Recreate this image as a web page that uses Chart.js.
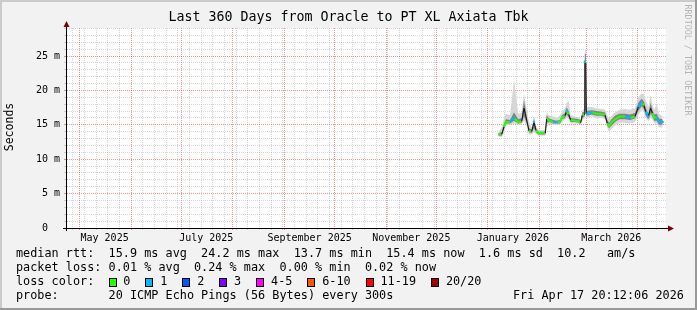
<!DOCTYPE html>
<html>
<head>
<meta charset="utf-8">
<script src="https://cdn.jsdelivr.net/npm/chart.js@4/dist/chart.umd.min.js"></script>
<style>
html, body { margin: 0; padding: 0; background: #f2f2f2; }
canvas { display: block; }
</style>
</head>
<body>
<canvas id="rtt" width="697" height="310"></canvas>
<script>
// x values are days since the start of the 360 day window (Apr 22 2025 20:12)
const days = [259.4, 261.4, 262.8, 264.0, 266.4, 268.8, 271.4, 273.4, 274.8, 276.4,
    277.8, 279.4, 280.8, 282.0, 283.4, 286.4, 287.6, 288.4, 290.0, 292.4,
    294.4, 296.4, 297.6, 299.4, 300.4, 301.6, 302.8, 305.4, 308.0, 308.8,
    309.8, 311.0, 311.3, 311.9, 312.2, 315.4, 318.4, 321.4, 323.4, 324.8, 325.8,
    327.4, 329.4, 332.0, 335.4, 338.4, 341.4, 343.4, 345.4, 346.8, 347.8,
    349.4, 350.8, 351.8, 353.0, 354.4, 355.8, 358.0];
const median = [13.6, 13.6, 14.7, 15.4, 15.4, 16.0, 15.4, 15.5, 17.4, 15.7,
    14.1, 14.0, 15.4, 14.2, 13.8, 13.8, 13.8, 16.0, 15.6, 15.4,
    15.4, 15.4, 16.1, 16.3, 17.0, 16.5, 15.7, 15.6, 15.5, 15.3,
    16.4, 16.5, 24.2, 24.0, 16.6, 16.8, 16.6, 16.6, 16.4, 15.2, 14.8,
    15.4, 15.8, 16.2, 16.2, 16.0, 16.2, 17.6, 18.2, 17.8, 16.9,
    16.2, 17.4, 16.7, 16.0, 16.1, 15.4, 15.4];
// loss class per point (index into lossLabels)
const loss = [0, 0, 0, 0, 0, 1, 0, 0, 0, 0,
    0, 0, 1, 0, 0, 0, 0, 0, 0, 0,
    1, 0, 0, 0, 1, 0, 0, 0, 0, 0,
    0, 0, 1, 0, 0, 1, 0, 0, 0, 0, 0,
    0, 0, 0, 0, 1, 0, 0, 1, 0, 0,
    1, 0, 0, 0, 0, 1, 1];
const smokeMin = [13.3, 13.2, 13.8, 14.9, 15.0, 15.2, 15.0, 15.0, 15.6, 14.8,
    13.6, 13.6, 13.9, 13.7, 13.4, 13.4, 13.4, 14.6, 15.1, 15.0,
    15.0, 15.0, 15.4, 15.7, 16.0, 15.8, 15.2, 15.2, 15.1, 15.0,
    15.6, 15.9, 16.6, 16.6, 16.0, 16.2, 16.0, 16.0, 15.8, 14.5, 14.0,
    14.4, 14.9, 15.3, 15.3, 15.2, 15.4, 16.4, 17.2, 16.8, 16.0,
    15.5, 16.0, 15.8, 15.2, 15.2, 14.6, 14.6];
const smokeMax = [14.0, 14.6, 16.0, 16.6, 16.4, 21.5, 16.6, 16.8, 19.6, 17.2,
    15.4, 14.6, 16.4, 14.8, 14.3, 14.2, 14.4, 16.8, 16.3, 16.2,
    16.0, 16.4, 16.9, 17.4, 18.2, 18.4, 16.4, 16.2, 16.0, 15.8,
    17.0, 17.4, 26.1, 25.8, 17.6, 17.6, 17.4, 17.3, 17.2, 16.4, 15.9,
    16.3, 16.8, 17.2, 17.3, 17.2, 17.4, 19.0, 19.6, 19.4, 18.6,
    17.6, 19.3, 18.0, 17.2, 18.1, 16.6, 16.2];
const coreLo = [13.4, 13.4, 14.3, 15.2, 15.2, 15.6, 15.2, 15.3, 16.2, 15.3,
    13.9, 13.8, 14.5, 13.9, 13.6, 13.6, 13.6, 15.3, 15.4, 15.2,
    15.2, 15.2, 15.8, 16.0, 16.5, 16.1, 15.4, 15.4, 15.3, 15.1,
    16.0, 16.2, 17.0, 17.0, 16.3, 16.5, 16.3, 16.3, 16.1, 14.9, 14.5,
    14.9, 15.4, 15.8, 15.8, 15.7, 15.9, 17.0, 17.7, 17.3, 16.4,
    15.8, 16.6, 16.2, 15.6, 15.6, 15.0, 15.0];
const coreHi = [13.8, 13.9, 15.2, 15.8, 15.7, 16.8, 15.8, 16.0, 18.6, 16.3,
    14.5, 14.3, 15.9, 14.5, 14.0, 14.0, 14.1, 16.4, 15.9, 15.7,
    15.6, 15.7, 16.4, 16.7, 17.5, 17.0, 16.0, 15.9, 15.8, 15.6,
    16.8, 16.9, 25.4, 25.2, 17.0, 17.1, 17.0, 16.9, 16.8, 15.7, 15.3,
    15.8, 16.3, 16.6, 16.6, 16.5, 16.7, 18.2, 18.8, 18.4, 17.5,
    16.6, 18.2, 17.2, 16.5, 16.6, 15.9, 15.8];

const monthStarts = [8.16, 39.16, 69.16, 100.16, 131.16, 161.16, 192.16, 222.16, 253.16, 284.16, 312.16, 343.16];
const labelDays = [23.16, 84.16, 146.16, 207.16, 268.16, 327.16];
const monthLabels = ['May 2025', 'July 2025', 'September 2025', 'November 2025', 'January 2026', 'March 2026'];
const firstSunday = 4.16;

const lossLabels = ['0', '1', '2', '3', '4-5', '6-10', '11-19', '20/20'];
const lossColors = ['#26ff00', '#00b8ff', '#0059ff', '#7e00ff', '#ff00ff', '#ff5500', '#ff0000', '#a10000'];

const titleText = 'Last 360 Days from Oracle to PT XL Axiata Tbk';
const rttLine = 'median rtt:  15.9 ms avg  24.2 ms max  13.7 ms min  15.4 ms now  1.6 ms sd  10.2   am/s';
const lossLine = 'packet loss: 0.01 % avg  0.24 % max  0.00 % min  0.02 % now';
const probeLine = 'probe:       20 ICMP Echo Pings (56 Bytes) every 300s';
const stampText = 'Fri Apr 17 20:12:06 2026';

const MINOR = 'rgba(128, 128, 128, 0.32)';
const MAJOR = 'rgba(225, 60, 60, 0.55)';
const MONO = "'DejaVu Sans Mono', monospace";

// x ticks: weekly minor lines, month start lines, label positions
const xTicks = new Map();
for (let d = firstSunday; d < 360; d += 7) xTicks.set(+d.toFixed(2), 'minor');
monthStarts.forEach(d => xTicks.set(d, 'major'));
labelDays.forEach(d => xTicks.set(d, 'label'));
const xTickList = [...xTicks.keys()].sort((a, b) => a - b);

const pts = (arr) => days.map((d, i) => ({x: d, y: arr[i]}));
const steep = (c) => Math.abs(c.p1.y - c.p0.y) > 2.5 * Math.abs(c.p1.x - c.p0.x);

function mono(ctx, str, x, y, pitch) {
    for (let i = 0; i < str.length; i++) ctx.fillText(str[i], x + i * pitch, y);
}

const decor = {
    id: 'decor',
    beforeDraw(chart) {
        const {ctx, chartArea: a} = chart;
        ctx.save();
        ctx.fillStyle = '#f2f2f2';
        ctx.fillRect(0, 0, chart.width, chart.height);
        ctx.fillStyle = '#ffffff';
        ctx.fillRect(a.left, a.top, a.right - a.left, a.bottom - a.top);
        ctx.restore();
    },
    afterDraw(chart) {
        const {ctx, chartArea: a} = chart;
        const W = chart.width, H = chart.height;
        ctx.save();

        // axis extensions and arrows
        ctx.strokeStyle = '#000';
        ctx.lineWidth = 1;
        ctx.beginPath();
        ctx.moveTo(a.left + 0.5, a.bottom + 3);
        ctx.lineTo(a.left + 0.5, a.top - 4);
        ctx.moveTo(a.left - 3, a.bottom + 0.5);
        ctx.lineTo(a.right + 5, a.bottom + 0.5);
        ctx.stroke();
        ctx.fillStyle = '#7f0000';
        ctx.beginPath();
        ctx.moveTo(a.left + 0.5, a.top - 7);
        ctx.lineTo(a.left - 2.5, a.top - 1);
        ctx.lineTo(a.left + 3.5, a.top - 1);
        ctx.fill();
        ctx.beginPath();
        ctx.moveTo(a.right + 8, a.bottom + 0.5);
        ctx.lineTo(a.right + 2, a.bottom - 2.5);
        ctx.lineTo(a.right + 2, a.bottom + 3.5);
        ctx.fill();

        // frame
        ctx.fillStyle = '#cbcbcb';
        ctx.fillRect(0, 0, W, 2);
        ctx.fillRect(0, 0, 2, H);
        ctx.fillStyle = '#999999';
        ctx.fillRect(W - 2, 0, 2, H);
        ctx.fillRect(0, H - 2, W, 2);

        ctx.fillStyle = '#000';
        ctx.textBaseline = 'middle';

        // title
        ctx.font = '13.3px ' + MONO;
        ctx.textAlign = 'center';
        ctx.fillText(titleText, W / 2, 18);

        // y axis title
        ctx.save();
        ctx.translate(10, 127);
        ctx.rotate(-Math.PI / 2);
        ctx.font = '11.5px ' + MONO;
        ctx.fillText('Seconds', 0, 0);
        ctx.restore();

        // watermark
        ctx.save();
        ctx.translate(687, 60);
        ctx.rotate(Math.PI / 2);
        ctx.font = '8.4px ' + MONO;
        ctx.fillStyle = '#b4b4b4';
        ctx.fillText('RRDTOOL / TOBI OETIKER', 0, 0);
        ctx.restore();

        // legend rows
        const pitch = 7.12, x0 = 16;
        ctx.textAlign = 'left';
        ctx.font = '11.8px ' + MONO;
        mono(ctx, rttLine, x0, 254, pitch);
        mono(ctx, lossLine, x0, 268, pitch);
        mono(ctx, 'loss color:', x0, 282, pitch);
        let bx = x0 + 13 * pitch;
        lossLabels.forEach((lab, i) => {
            const rx = Math.round(bx);
            ctx.fillStyle = '#000';
            ctx.fillRect(rx, 278, 8, 9);
            ctx.fillStyle = lossColors[i];
            ctx.fillRect(rx + 1, 279, 6, 7);
            ctx.fillStyle = '#000';
            const tx = bx + 14.8;
            mono(ctx, lab, tx, 282, pitch);
            bx = tx + lab.length * pitch + 15;
        });
        mono(ctx, probeLine, x0, 296, pitch);
        mono(ctx, stampText, 513, 296, pitch);
        ctx.restore();
    }
};

new Chart(document.getElementById('rtt'), {
    type: 'line',
    data: {
        datasets: [
            {
                label: 'median',
                data: pts(median),
                order: 0,
                borderWidth: 2,
                borderColor: lossColors[0],
                tension: 0,
                fill: false,
                pointStyle: 'rect',
                pointRadius: (c) => loss[c.dataIndex] > 0 ? 1.5 : 0,
                pointBorderWidth: 0,
                pointBackgroundColor: (c) => lossColors[loss[c.dataIndex]],
                segment: {
                    borderColor: (c) => steep(c) ? '#111' : lossColors[loss[c.p1DataIndex]],
                    borderWidth: (c) => steep(c) ? 1 : 2
                }
            },
            {
                label: 'core hi',
                data: pts(coreHi),
                order: 1,
                borderWidth: 0,
                pointRadius: 0,
                tension: 0,
                fill: false
            },
            {
                label: 'core lo',
                data: pts(coreLo),
                order: 1,
                borderWidth: 0,
                pointRadius: 0,
                tension: 0,
                fill: '-1',
                backgroundColor: '#828282'
            },
            {
                label: 'smoke max',
                data: pts(smokeMax),
                order: 2,
                borderWidth: 0,
                pointRadius: 0,
                tension: 0,
                fill: false
            },
            {
                label: 'smoke min',
                data: pts(smokeMin),
                order: 2,
                borderWidth: 0,
                pointRadius: 0,
                tension: 0,
                fill: '-1',
                backgroundColor: '#d6d6d6'
            }
        ]
    },
    options: {
        responsive: false,
        animation: false,
        events: [],
        layout: {padding: {left: 0, right: 31, top: 28, bottom: 62}},
        plugins: {
            legend: {display: false},
            tooltip: {enabled: false}
        },
        scales: {
            x: {
                type: 'linear',
                min: 0,
                max: 360,
                afterFit: (s) => { s.height = 20; },
                afterBuildTicks: (s) => { s.ticks = xTickList.map(v => ({value: v})); },
                ticks: {
                    autoSkip: false,
                    maxRotation: 0,
                    padding: 2,
                    color: '#000',
                    font: {family: MONO, size: 10},
                    callback: (v) => {
                        const i = labelDays.indexOf(v);
                        return i >= 0 ? monthLabels[i] : '';
                    }
                },
                grid: {
                    color: (c) => {
                        const k = xTicks.get(c.tick && c.tick.value);
                        return k === 'major' ? MAJOR : (k === 'minor' ? MINOR : 'rgba(0,0,0,0)');
                    },
                    lineWidth: (c) => xTicks.get(c.tick && c.tick.value) === 'label' ? 0 : 1,
                    tickLength: 2
                },
                border: {display: true, color: '#000', width: 1, dash: [1, 1]}
            },
            y: {
                type: 'linear',
                min: 0,
                max: 29.07,
                afterFit: (s) => { s.width = 66; },
                afterBuildTicks: (s) => {
                    const t = [];
                    for (let v = 0; v <= 29; v++) t.push({value: v});
                    s.ticks = t;
                },
                ticks: {
                    autoSkip: false,
                    padding: 4,
                    color: '#000',
                    font: {family: MONO, size: 10},
                    callback: (v) => v % 5 === 0 ? (v === 0 ? '0  ' : v + ' m') : ''
                },
                grid: {
                    color: (c) => {
                        const v = c.tick ? c.tick.value : 0;
                        if (v === 0) return 'rgba(0,0,0,0)';
                        return v % 5 === 0 ? MAJOR : MINOR;
                    },
                    tickLength: 2
                },
                border: {display: true, color: '#000', width: 1, dash: [1, 1]}
            }
        }
    },
    plugins: [decor]
});
</script>
</body>
</html>
